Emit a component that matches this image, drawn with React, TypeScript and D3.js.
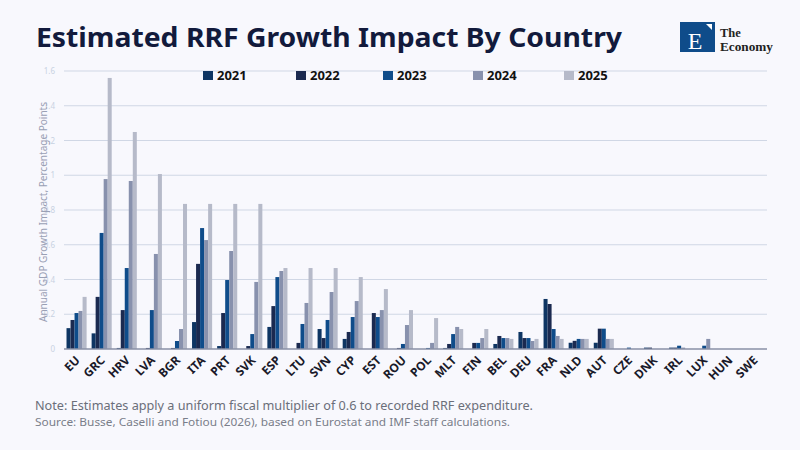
import React, { useEffect, useRef } from "react";
import * as d3 from "d3";

const countries = [
  "EU", "GRC", "HRV", "LVA", "BGR", "ITA", "PRT", "SVK", "ESP", "LTU",
  "SVN", "CYP", "EST", "ROU", "POL", "MLT", "FIN", "BEL", "DEU", "FRA",
  "NLD", "AUT", "CZE", "DNK", "IRL", "LUX", "HUN", "SWE",
];

const years = ["2021", "2022", "2023", "2024", "2025"];

const y2021 = [0.12, 0.09, 0.006, 0, 0, 0.155, 0.017, 0, 0.127, 0, 0.115, 0.058, 0, 0, 0, 0.006, 0, 0.029, 0.098, 0.288, 0.036, 0.036, 0, 0.008, 0.008, 0, 0, 0];
const y2022 = [0.167, 0.3, 0.224, 0.006, 0.006, 0.49, 0.207, 0.017, 0.247, 0.035, 0.063, 0.098, 0.207, 0.006, 0, 0.029, 0.035, 0.075, 0.063, 0.259, 0.047, 0.117, 0, 0.008, 0.008, 0, 0, 0];
const y2023 = [0.207, 0.668, 0.466, 0.224, 0.046, 0.696, 0.397, 0.086, 0.414, 0.144, 0.167, 0.184, 0.184, 0.029, 0.006, 0.086, 0.035, 0.063, 0.063, 0.115, 0.058, 0.117, 0.008, 0, 0.019, 0.019, 0, 0];
const y2024 = [0.219, 0.978, 0.967, 0.547, 0.115, 0.627, 0.564, 0.386, 0.449, 0.265, 0.328, 0.276, 0.224, 0.138, 0.035, 0.127, 0.063, 0.063, 0.046, 0.075, 0.058, 0.058, 0, 0, 0.008, 0.058, 0, 0];
const y2025 = [0.3, 1.56, 1.249, 1.007, 0.835, 0.835, 0.835, 0.835, 0.466, 0.466, 0.466, 0.414, 0.345, 0.224, 0.178, 0.115, 0.115, 0.058, 0.058, 0.058, 0.058, 0.058, 0, 0, 0, 0, 0, 0];

const series = [y2021, y2022, y2023, y2024, y2025];
const colors = ["#0e3563", "#1b2a50", "#0f4c8a", "#8891ad", "#b6bac9"];
const yTicks = [0, 0.2, 0.4, 0.6, 0.8, 1, 1.2, 1.4, 1.6];

const W = 800;
const H = 450;

const App = () => {
  const svgRef = useRef(null);

  useEffect(() => {
    if (!svgRef.current) return;
    const svg = d3.select(svgRef.current);
    svg.selectAll("*").remove();

    const margin = { top: 71, right: 33, bottom: 101, left: 64 };
    const x0 = d3
      .scaleBand()
      .domain(countries)
      .range([margin.left, W - margin.right])
      .paddingInner(0.2)
      .paddingOuter(0.1);
    const x1 = d3.scaleBand().domain(years).range([0, x0.bandwidth()]);
    const y = d3.scaleLinear().domain([0, 1.6]).range([H - margin.bottom, margin.top]);

    svg.append("rect").attr("width", W).attr("height", H).attr("fill", "#f8f8fd");

    // title
    svg
      .append("text")
      .attr("x", 36)
      .attr("y", 47)
      .attr("font-family", "'Noto Sans', sans-serif")
      .attr("font-weight", 700)
      .attr("font-size", 26)
      .attr("fill", "#121a3c")
      .attr("textLength", 586)
      .attr("lengthAdjust", "spacingAndGlyphs")
      .text("Estimated RRF Growth Impact By Country");

    // logo
    const logo = svg.append("g");
    logo.append("rect").attr("x", 680).attr("y", 22).attr("width", 35).attr("height", 30).attr("fill", "#0f4c8a");
    logo
      .append("text")
      .attr("x", 695)
      .attr("y", 49)
      .attr("text-anchor", "middle")
      .attr("font-family", "'Liberation Serif', serif")
      .attr("font-size", 24)
      .attr("fill", "#fff")
      .text("E");
    logo.append("polygon").attr("points", "706,24 712,24 712,30").attr("fill", "#fff");
    logo
      .append("text")
      .attr("x", 720)
      .attr("y", 37)
      .attr("font-family", "'Liberation Serif', serif")
      .attr("font-size", 12.5)
      .attr("font-weight", 600)
      .attr("fill", "#222")
      .text("The");
    logo
      .append("text")
      .attr("x", 720)
      .attr("y", 51)
      .attr("font-family", "'Liberation Serif', serif")
      .attr("font-size", 12.5)
      .attr("font-weight", 600)
      .attr("fill", "#222")
      .attr("textLength", 53)
      .attr("lengthAdjust", "spacingAndGlyphs")
      .text("Economy");

    // grid
    svg
      .append("g")
      .selectAll("line")
      .data(yTicks.slice(1))
      .join("line")
      .attr("x1", margin.left)
      .attr("x2", W - margin.right)
      .attr("y1", (d) => y(d))
      .attr("y2", (d) => y(d))
      .attr("stroke", "#d0d7e5")
      .attr("stroke-width", 1);

    svg
      .append("g")
      .selectAll("text")
      .data(yTicks)
      .join("text")
      .attr("x", 55)
      .attr("y", (d) => y(d) + 3)
      .attr("text-anchor", "end")
      .attr("font-family", "'Noto Sans', sans-serif")
      .attr("font-size", 8)
      .attr("fill", "#c8d2e2")
      .text((d) => String(+d.toFixed(1)));

    svg
      .append("text")
      .attr("transform", `translate(47,${(y(0) + y(1.6)) / 2 + 2}) rotate(-90)`)
      .attr("text-anchor", "middle")
      .attr("font-family", "'Noto Sans', sans-serif")
      .attr("font-size", 10)
      .attr("fill", "#9aa0b5")
      .attr("textLength", 220)
      .attr("lengthAdjust", "spacingAndGlyphs")
      .text("Annual GDP Growth Impact, Percentage Points");

    // bars
    const groups = svg
      .append("g")
      .selectAll("g")
      .data(countries)
      .join("g")
      .attr("transform", (d) => `translate(${x0(d)},0)`);

    groups
      .selectAll("rect")
      .data((c, i) => years.map((yr, k) => ({ yr, k, v: series[k][i] })))
      .join("rect")
      .attr("x", (d) => x1(d.yr))
      .attr("width", x1.bandwidth())
      .attr("y", (d) => y(d.v))
      .attr("height", (d) => y(0) - y(d.v))
      .attr("fill", (d) => colors[d.k]);

    svg
      .append("line")
      .attr("x1", margin.left)
      .attr("x2", W - margin.right)
      .attr("y1", y(0))
      .attr("y2", y(0))
      .attr("stroke", "#8a90a6")
      .attr("stroke-width", 1.5);

    // x labels
    svg
      .append("g")
      .selectAll("text")
      .data(countries)
      .join("text")
      .attr("transform", (d) => `translate(${x0(d) + x0.bandwidth() / 2 + 4},${y(0) + 12}) rotate(-45)`)
      .attr("text-anchor", "end")
      .attr("font-family", "'Noto Sans', sans-serif")
      .attr("font-weight", 700)
      .attr("font-size", 12)
      .attr("fill", "#1a1a2a")
      .text((d) => d);

    // legend
    const legendX = [203, 296, 383, 473, 564];
    const legend = svg
      .append("g")
      .selectAll("g")
      .data(years)
      .join("g")
      .attr("transform", (d, i) => `translate(${legendX[i]},71)`);
    legend
      .append("rect")
      .attr("width", 10)
      .attr("height", 9)
      .attr("fill", (d, i) => colors[i]);
    legend
      .append("text")
      .attr("x", 14)
      .attr("y", 9)
      .attr("font-family", "'Noto Sans', sans-serif")
      .attr("font-weight", 700)
      .attr("font-size", 13)
      .attr("fill", "#111")
      .text((d) => d);

    // notes
    svg
      .append("text")
      .attr("x", 35)
      .attr("y", 410)
      .attr("font-family", "'Noto Sans', sans-serif")
      .attr("font-size", 12)
      .attr("fill", "#6b6f7a")
      .attr("textLength", 498)
      .attr("lengthAdjust", "spacingAndGlyphs")
      .text("Note: Estimates apply a uniform fiscal multiplier of 0.6 to recorded RRF expenditure.");
    svg
      .append("text")
      .attr("x", 35)
      .attr("y", 426)
      .attr("font-family", "'Noto Sans', sans-serif")
      .attr("font-size", 10.5)
      .attr("fill", "#7a7e8a")
      .attr("textLength", 475)
      .attr("lengthAdjust", "spacingAndGlyphs")
      .text("Source: Busse, Caselli and Fotiou (2026), based on Eurostat and IMF staff calculations.");
  }, []);

  return (
    <div style={{ position: "absolute", left: 0, top: 0 }}>
      <svg ref={svgRef} width={W} height={H}></svg>
    </div>
  );
};

export default App;
